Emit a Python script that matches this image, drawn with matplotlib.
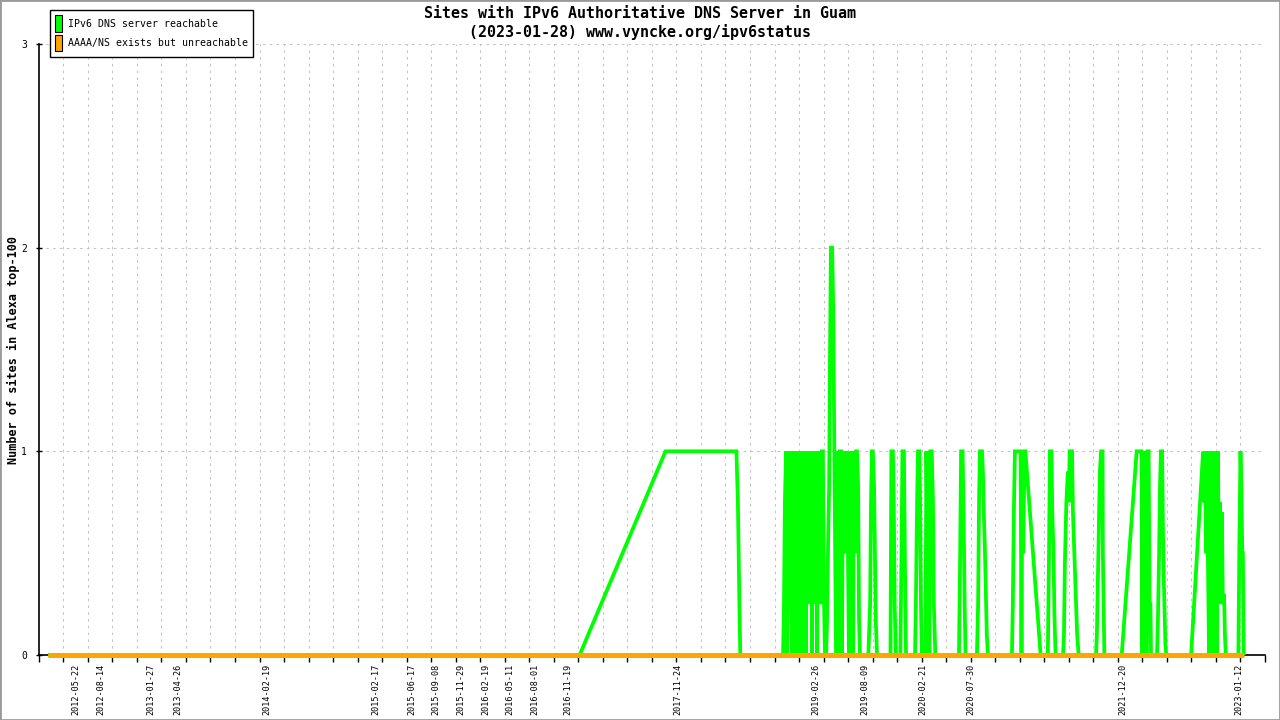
import matplotlib
matplotlib.use("Agg")
import matplotlib.pyplot as plt
import matplotlib.dates as mdates
import numpy as np
import pandas as pd
from matplotlib.patches import Patch, Rectangle
from matplotlib.ticker import FixedLocator

# Тексты графика
title_line1 = "Sites with IPv6 Authoritative DNS Server in Guam"
title_line2 = "(2023-01-28) www.vyncke.org/ipv6status"
y_label = "Number of sites in Alexa top-100"
legend_labels = ["IPv6 DNS server reachable", "AAAA/NS exists but unreachable"]

# Ряд "IPv6 DNS server reachable"
reach_dates = [
    "2012-02-18", "2016-12-30", "2017-10-13", "2018-06-07", "2018-06-12", "2018-06-17", "2018-06-20",
    # конец 2018 - лето 2019
    "2018-11-10", "2018-11-13", "2018-11-16", "2018-11-20", "2018-11-23", "2018-11-26", "2018-11-30",
    "2018-12-03", "2018-12-06", "2018-12-10", "2018-12-13", "2018-12-17", "2018-12-20", "2018-12-23",
    "2018-12-27", "2018-12-30", "2019-01-02", "2019-01-05", "2019-01-09", "2019-01-12", "2019-01-15",
    "2019-01-19", "2019-01-22", "2019-01-25", "2019-01-29", "2019-02-01", "2019-02-05", "2019-02-08",
    "2019-02-11", "2019-02-15", "2019-02-18", "2019-02-21", "2019-02-25", "2019-02-28", "2019-03-04",
    "2019-03-07", "2019-03-10", "2019-03-13", "2019-03-17", "2019-03-20", "2019-03-23", "2019-03-27",
    "2019-03-30", "2019-04-03", "2019-04-06", "2019-04-09", "2019-04-13", "2019-04-16", "2019-04-19",
    "2019-04-23", "2019-04-26", "2019-04-29", "2019-05-03", "2019-05-06", "2019-05-09", "2019-05-13",
    "2019-05-16", "2019-05-19", "2019-05-23", "2019-05-26", "2019-05-29", "2019-06-02", "2019-06-05",
    "2019-06-08", "2019-06-12", "2019-06-15", "2019-06-18", "2019-06-22", "2019-06-25", "2019-06-28",
    "2019-07-02", "2019-07-05", "2019-07-09", "2019-07-12", "2019-07-15", "2019-07-19", "2019-07-22",
    "2019-07-25",
    # осень 2019 - 2020
    "2019-08-22", "2019-08-28", "2019-08-31", "2019-09-03", "2019-09-06", "2019-09-10", "2019-09-13",
    "2019-09-16", "2019-09-20",
    "2019-11-04", "2019-11-07", "2019-11-12", "2019-11-15", "2019-11-18", "2019-11-22",
    "2019-12-07", "2019-12-11", "2019-12-14", "2019-12-19", "2019-12-22", "2019-12-26",
    "2020-01-25", "2020-01-28", "2020-02-01", "2020-02-04", "2020-02-09", "2020-02-11", "2020-02-14",
    "2020-02-17",
    "2020-02-29", "2020-03-03", "2020-03-07", "2020-03-10", "2020-03-13", "2020-03-16", "2020-03-21",
    "2020-03-25", "2020-03-28", "2020-04-02",
    "2020-06-20", "2020-06-24", "2020-06-27", "2020-07-02", "2020-07-05", "2020-07-09", "2020-07-12",
    "2020-08-19", "2020-08-23", "2020-08-26", "2020-08-29", "2020-09-05", "2020-09-08", "2020-09-11",
    "2020-09-15", "2020-09-18", "2020-09-21", "2020-09-25",
    # 2021
    "2020-12-14", "2020-12-17", "2020-12-21", "2020-12-24", "2021-01-12", "2021-01-15", "2021-01-18",
    "2021-01-21", "2021-01-25", "2021-01-28", "2021-03-20",
    "2021-04-13", "2021-04-17", "2021-04-20", "2021-04-25", "2021-04-28", "2021-05-02", "2021-05-05",
    "2021-05-09",
    "2021-06-03", "2021-06-06", "2021-06-09", "2021-06-14", "2021-06-19", "2021-06-22", "2021-06-25",
    "2021-07-03", "2021-07-06", "2021-07-13", "2021-07-20", "2021-07-25",
    "2021-09-21", "2021-09-24", "2021-09-29", "2021-10-04", "2021-10-08", "2021-10-13", "2021-10-14",
    "2021-10-18", "2021-10-19",
    # 2022 - 2023
    "2021-12-16", "2022-02-04", "2022-02-20", "2022-02-23", "2022-02-26", "2022-03-02", "2022-03-06",
    "2022-03-09", "2022-03-12", "2022-03-16", "2022-03-19", "2022-03-22", "2022-03-24",
    "2022-04-13", "2022-04-16", "2022-04-20", "2022-04-23", "2022-04-26", "2022-04-30", "2022-05-03",
    "2022-05-06", "2022-05-11", "2022-05-14",
    "2022-08-05", "2022-09-14", "2022-09-17", "2022-09-20", "2022-09-24", "2022-09-27", "2022-09-30",
    "2022-10-04", "2022-10-07", "2022-10-10", "2022-10-14", "2022-10-17", "2022-10-20", "2022-10-24",
    "2022-10-27", "2022-10-30", "2022-11-03", "2022-11-06", "2022-11-09", "2022-11-13", "2022-11-16",
    "2022-11-19", "2022-11-23", "2022-11-26", "2022-11-29",
    "2023-01-10", "2023-01-13", "2023-01-17", "2023-01-20", "2023-01-23", "2023-01-25", "2023-01-28",
]
reach_values = [
    0, 0, 1, 1, 0.75, 0.25, 0,
    0, 0.25, 0.75, 1, 0, 1, 0.25,
    1, 0.25, 0, 0.5, 1, 0, 1,
    0.25, 1, 0, 1, 0.5, 0, 1,
    0.25, 1, 0, 1, 0.5, 1, 0.25,
    1, 0, 1, 0.25, 0.5, 1, 0,
    1, 0.25, 1, 0.25, 1, 1, 0.25,
    0, 0, 0.17, 0.5, 0.83, 1.5, 2,
    2, 1.75, 1.25, 0.5, 0, 0, 1,
    0, 1, 1, 0, 1, 0.5, 1,
    0.5, 1, 0.5, 0, 1, 0.5, 1,
    0, 1, 0.5, 1, 1, 0.83, 0.17,
    0,
    0, 0.25, 0.75, 1, 1, 0.83, 0.5,
    0.17, 0,
    0, 1, 1, 0.75, 0.25, 0,
    0, 0.5, 1, 1, 0.5, 0,
    0, 0.25, 0.75, 1, 1, 0.75, 0.25,
    0,
    0, 1, 0.5, 1, 0, 1, 1,
    0.75, 0.25, 0,
    0, 0.5, 1, 1, 0.75, 0.25, 0,
    0, 0.25, 0.75, 1, 1, 0.9, 0.7,
    0.5, 0.3, 0.1, 0,
    0, 0.25, 0.75, 1, 1, 0, 1,
    0.5, 1, 1, 0,
    0, 0.5, 1, 1, 0.7, 0.5, 0.2,
    0,
    0, 0.1, 0.45, 0.75, 0.9, 0.75, 1,
    1, 0.7, 0.4, 0.1, 0,
    0, 0.1, 0.5, 0.9, 1, 1, 0.5,
    0.1, 0,
    0, 1, 1, 0, 1, 0, 1,
    0, 1, 1, 0.25, 0.25, 0,
    0, 0.17, 0.5, 0.83, 1, 1, 0.6,
    0.35, 0.05, 0,
    0, 1, 0.75, 1, 0.5, 1, 0.5,
    0, 1, 0.5, 1, 0, 1, 0.5,
    1, 0, 1, 0.25, 0.75, 0.5, 0.7,
    0.25, 0.3, 0.1, 0,
    0, 0.5, 1, 0.83, 0.5, 0.5, 0,
]

# Ряд "AAAA/NS exists but unreachable" — всё время ноль
unreach_dates = ["2012-02-18", "2023-01-28"]
unreach_values = [0, 0]

# Подписи оси X (даты)
tick_dates = [
    "2012-05-22", "2012-08-14", "2013-01-27", "2013-04-26", "2014-02-19", "2015-02-17",
    "2015-06-17", "2015-09-08", "2015-11-29", "2016-02-19", "2016-05-11", "2016-08-01",
    "2016-11-19", "2017-11-24", "2019-02-26", "2019-08-09", "2020-02-21", "2020-07-30",
    "2021-12-20", "2023-01-12",
]
y_ticks = [0, 1, 2, 3]
x_start, x_end = "2012-01-18", "2023-04-09"

GREEN = "#00ff00"
ORANGE = "#ffa500"
GRID = "#c4c4c4"

plt.rcParams["font.family"] = ["DejaVu Sans Mono", "DejaVu Sans"]

fig = plt.figure(figsize=(12.8, 7.2), dpi=100)
fig.patch.set_facecolor("white")
ax = fig.add_axes([38.8 / 1280, 65 / 720, (1265 - 38.8) / 1280, 611 / 720])

x0 = mdates.date2num(pd.Timestamp(x_start))
x1 = mdates.date2num(pd.Timestamp(x_end))
ax.set_xlim(x0, x1)
ax.set_ylim(0, 3)

# сетка: 50 равных делений по X, пунктир по Y на 1, 2, 3
minor_pos = np.linspace(x0, x1, 51)
dash = (0, (2.5, 4))
ax.vlines(minor_pos[1:-1], 0, 3, colors=GRID, linestyles=dash, linewidth=0.75, zorder=1)
ax.hlines(y_ticks[1:], x0, x1, colors=GRID, linestyles=dash, linewidth=0.75, zorder=1)

ax.plot(pd.to_datetime(reach_dates), reach_values, color=GREEN, linewidth=2.7,
        solid_joinstyle="miter", solid_capstyle="butt", clip_on=False, zorder=3)
ax.plot(pd.to_datetime(unreach_dates), unreach_values, color=ORANGE, linewidth=3.6,
        solid_capstyle="butt", clip_on=False, zorder=4)

# оси
for side in ["top", "right"]:
    ax.spines[side].set_visible(False)
for side in ["left", "bottom"]:
    ax.spines[side].set_linewidth(1.2)
    ax.spines[side].set_color("black")
    ax.spines[side].set_zorder(2)

ax.xaxis.set_minor_locator(FixedLocator(minor_pos))
ax.set_xticks(mdates.date2num(pd.to_datetime(tick_dates)))
ax.set_xticklabels(tick_dates, rotation=90)
ax.tick_params(axis="x", which="major", length=0, pad=6.5, labelsize=6.1)
ax.tick_params(axis="x", which="minor", direction="out", length=5, width=1.0, color="black")
ax.set_yticks(y_ticks)
ax.set_yticklabels([str(v) for v in y_ticks])
ax.tick_params(axis="y", which="major", direction="inout", length=5, width=1.0, pad=6, labelsize=7)

fig.text(0.5, 1 - 13 / 720, title_line1, ha="center", va="center", fontsize=10.8, fontweight="bold")
fig.text(0.5, 1 - 32 / 720, title_line2, ha="center", va="center", fontsize=10.8, fontweight="bold")
fig.text(13 / 1280, 1 - 350 / 720, y_label, ha="center", va="center", rotation=90,
         fontsize=8.5, fontweight="bold")

handles = [
    Patch(facecolor=GREEN, edgecolor="black", linewidth=0.8),
    Patch(facecolor=ORANGE, edgecolor="black", linewidth=0.8),
]
leg = fig.legend(handles, legend_labels, loc="upper left", bbox_to_anchor=(50 / 1280, 1 - 10 / 720),
                 frameon=True, fancybox=False, edgecolor="black", framealpha=1, fontsize=7.1,
                 handlelength=0.65, handleheight=2.2, handletextpad=0.6, borderpad=0.55,
                 labelspacing=0.3, borderaxespad=0)
leg.get_frame().set_linewidth(1.0)

# серая рамка вокруг картинки
fig.patches.append(Rectangle((0, 0), 1, 1, transform=fig.transFigure, fill=False,
                             edgecolor="#9a9a9a", linewidth=2))

fig.savefig("out.png", dpi=100)
